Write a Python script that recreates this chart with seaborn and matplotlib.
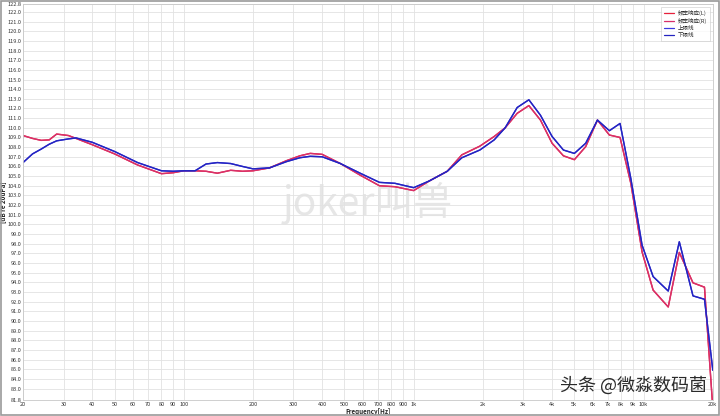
import matplotlib
matplotlib.use("Agg")
import matplotlib.pyplot as plt
from matplotlib.patches import Rectangle
import seaborn as sns
import pandas as pd

# frequency points (Hz)
freqs = [20, 22, 24, 26, 28, 31.5, 34, 40, 50, 63, 80, 90, 100, 112, 125, 140,
         160, 180, 200, 236, 280, 320, 355, 400, 480, 585, 710, 830, 1000, 1170,
         1400, 1620, 1940, 2240, 2500, 2820, 3170, 3560, 4000, 4480, 5000, 5600,
         6300, 7100, 7900, 8800, 9850, 11000, 12800, 14300, 16400, 18400, 20000]

# response (dB re 20uPa)
resp_l = [109.2, 108.9, 108.7, 108.75, 109.35, 109.2, 108.9, 108.25, 107.3, 106.15,
          105.25, 105.35, 105.55, 105.55, 105.5, 105.3, 105.6, 105.5, 105.55, 105.85,
          106.6, 107.1, 107.35, 107.25, 106.3, 105.1, 104.0, 103.9, 103.5, 104.5,
          105.5, 107.2, 108.1, 109.1, 110.0, 111.5, 112.3, 110.8, 108.4, 107.1,
          106.7, 108.05, 110.8, 109.25, 109.0, 104.25, 97.15, 93.2, 91.45, 97.1,
          93.95, 93.5, 81.0]
resp_r = [109.2, 108.9, 108.7, 108.75, 109.35, 109.2, 108.9, 108.25, 107.3, 106.15,
          105.25, 105.35, 105.55, 105.55, 105.5, 105.3, 105.6, 105.5, 105.55, 105.85,
          106.6, 107.1, 107.35, 107.25, 106.3, 105.1, 104.0, 103.9, 103.5, 104.5,
          105.5, 107.2, 108.1, 109.1, 110.0, 111.5, 112.3, 110.8, 108.4, 107.1,
          106.7, 108.05, 110.8, 109.25, 109.0, 104.25, 97.15, 93.2, 91.45, 97.1,
          93.95, 93.5, 81.0]
upper = [106.4, 107.3, 107.8, 108.3, 108.65, 108.85, 108.95, 108.5, 107.55, 106.4,
         105.55, 105.5, 105.55, 105.55, 106.25, 106.4, 106.3, 106.0, 105.75, 105.85,
         106.5, 106.9, 107.05, 107.0, 106.3, 105.3, 104.35, 104.25, 103.8, 104.5,
         105.5, 106.9, 107.7, 108.75, 110.0, 112.1, 112.9, 111.3, 109.1, 107.7,
         107.35, 108.4, 110.8, 109.7, 110.45, 104.75, 97.85, 94.6, 93.1, 98.2,
         92.6, 92.25, 84.9]
lower = [106.4, 107.3, 107.8, 108.3, 108.65, 108.85, 108.95, 108.5, 107.55, 106.4,
         105.55, 105.5, 105.55, 105.55, 106.25, 106.4, 106.3, 106.0, 105.75, 105.85,
         106.5, 106.9, 107.05, 107.0, 106.3, 105.3, 104.35, 104.25, 103.8, 104.5,
         105.5, 106.9, 107.7, 108.75, 110.0, 112.1, 112.9, 111.3, 109.1, 107.7,
         107.35, 108.4, 110.8, 109.7, 110.45, 104.75, 97.85, 94.6, 93.1, 98.2,
         92.6, 92.25, 84.9]

series_names = ["频率响应(L)", "频率响应(R)", "上限线", "下限线"]
series_colors = ["#e8203c", "#d8306a", "#3a3ae0", "#2424c0"]

x_ticks = [20, 30, 40, 50, 60, 70, 80, 90, 100, 200, 300, 400, 500, 600, 700,
           800, 900, 1000, 2000, 3000, 4000, 5000, 6000, 7000, 8000, 9000, 10000, 20000]
x_labels = ["20", "30", "40", "50", "60", "70", "80", "90", "100", "200", "300",
            "400", "500", "600", "700", "800", "900", "1k", "2k", "3k", "4k", "5k",
            "6k", "7k", "8k", "9k", "10k", "20k"]
y_ticks = [81.8] + [float(v) for v in range(83, 123)] + [122.8]

sns.set_theme(style="whitegrid")
plt.rcParams["font.family"] = ["Noto Sans CJK SC", "DejaVu Sans"]

df = pd.DataFrame({
    "freq": freqs * 4,
    "db": resp_l + resp_r + upper + lower,
    "series": [n for n in series_names for _ in freqs],
})

fig = plt.figure(figsize=(7.2, 4.16), dpi=100)
ax = fig.add_axes([0.032, 0.038, 0.958, 0.952])

sns.lineplot(data=df, x="freq", y="db", hue="series", hue_order=series_names,
             palette=series_colors, linewidth=1.0, ax=ax, sort=False)

ax.set_xscale("log")
ax.set_xlim(20, 20000)
ax.set_ylim(81.8, 122.8)
ax.set_xticks(x_ticks)
ax.set_xticklabels(x_labels)
ax.minorticks_off()
ax.set_yticks(y_ticks)
ax.set_yticklabels(["%.1f" % v for v in y_ticks])
ax.tick_params(axis="both", labelsize=4, colors="#333333", pad=1, length=0)
ax.grid(True, color="#e2e2e2", linewidth=0.6)
for s in ax.spines.values():
    s.set_color("#c8c8c8")
    s.set_linewidth(0.6)

ax.set_xlabel("Frequency[Hz]", fontsize=4.5, fontweight="bold", labelpad=1)
ax.set_ylabel("[dB re 20uPa]", fontsize=4.5, fontweight="bold")
ax.yaxis.set_label_coords(-0.024, 0.5)

leg = ax.legend(loc="upper right", fontsize=4, frameon=True, fancybox=False,
                handlelength=1.8, borderpad=0.5, labelspacing=0.35,
                edgecolor="#c8c8c8", title=None)
leg.get_frame().set_linewidth(0.5)
for line in leg.get_lines():
    line.set_linewidth(0.9)

# watermarks
ax.text(0.5, 0.5, "joker叫兽", transform=ax.transAxes, ha="center", va="center",
        fontsize=28, color="#e6e6e6", zorder=0)
fig.text(0.88, 0.074, "头条 @微淼数码菌", ha="center", va="center",
         fontsize=13, color="#2a2a2a", zorder=10)

fig.patches.append(Rectangle((0.002, 0.002), 0.996, 0.996, transform=fig.transFigure,
                             fill=False, edgecolor="#9a9a9a", linewidth=1.2))

fig.savefig("out.png", dpi=100)
